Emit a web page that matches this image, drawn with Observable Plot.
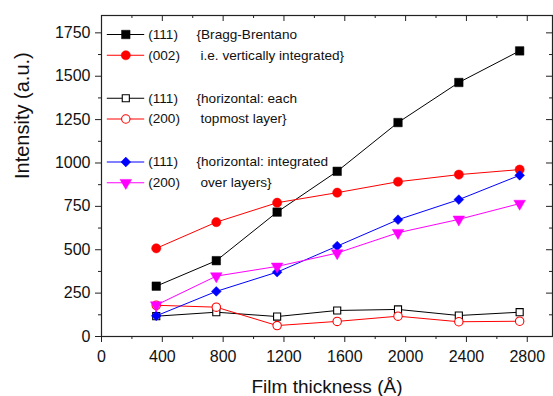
<!DOCTYPE html>
<html>
<head>
<meta charset="utf-8">
<script src="https://cdn.jsdelivr.net/npm/d3@7"></script>
<script src="https://cdn.jsdelivr.net/npm/@observablehq/plot@0.6"></script>
<style>
  html, body { margin: 0; padding: 0; background: #fff; }
</style>
</head>
<body>
<div id="chart"></div>
<script>
// Film thickness (Å) for each sample
const thickness = [360, 755, 1155, 1550, 1950, 2350, 2750];

// Peak intensities (a.u.)
const braggBrentano111 = [290, 437, 717, 952, 1233, 1464, 1646];
const braggBrentano002 = [508, 659, 771, 829, 892, 933, 962];
const horizEach111     = [117, 140, 115, 150, 156, 121, 140];
const horizEach200     = [180, 169, 63, 87, 117, 85, 88];
const horizInt111      = [119, 260, 371, 521, 673, 789, 929];
const horizInt200      = [181, 348, 404, 481, 598, 675, 766];

// Legend texts
const reflections = ["(111)", "(002)", "(111)", "(200)", "(111)", "(200)"];
const notes = [
  "{Bragg-Brentano", "i.e. vertically integrated}",
  "{horizontal: each", "topmost layer}",
  "{horizontal: integrated", "over layers}"
];

// Axis ticks
const xTicks = [0, 400, 800, 1200, 1600, 2000, 2400, 2800];
const xMinor = [200, 600, 1000, 1400, 1800, 2200, 2600];
const yTicks = [0, 250, 500, 750, 1000, 1250, 1500, 1750];
const yMinor = [125, 375, 625, 875, 1125, 1375, 1625];

const xTitle = "Film thickness (Å)";
const yTitle = "Intensity (a.u.)";

// Marker styling per series
const styles = [
  {values: braggBrentano111, color: "#000000", symbol: "square",   r: 4.8, filled: true},
  {values: braggBrentano002, color: "#ff0000", symbol: "circle",   r: 4.6, filled: true},
  {values: horizEach111,     color: "#000000", symbol: "square",   r: 4.0, filled: false},
  {values: horizEach200,     color: "#ff0000", symbol: "circle",   r: 4.2, filled: false},
  {values: horizInt111,      color: "#0000ff", symbol: "diamond2", r: 4.4, filled: true},
  {values: horizInt200,      color: "#ff00ff", symbol: "triangle", r: 4.3, filled: true, rotate: 180}
];

const W = 553, H = 396;
const mL = 101, mR = 1, mT = 15, mB = 60;
const innerW = W - mL - mR, innerH = H - mT - mB;

const segment = {draw(context, l) { context.moveTo(0, 0); context.lineTo(0, -l); }};

const marks = [];

// Data series: line then markers
styles.forEach(s => {
  const rows = thickness.map((t, i) => ({t, v: s.values[i]}));
  marks.push(Plot.line(rows, {x: "t", y: "v", stroke: s.color, strokeWidth: 1}));
  marks.push(Plot.dot(rows, {
    x: "t", y: "v", symbol: s.symbol, r: s.r,
    fill: s.filled ? s.color : "white",
    stroke: s.color, strokeWidth: s.filled ? 0.5 : 1.1,
    rotate: s.rotate || 0
  }));
});

// Legend rows inside the frame
styles.forEach((s, i) => {
  const pair = Math.floor(i / 2), sub = i % 2;
  const dy = 19 + pair * 63.75 + sub * 20.75;
  marks.push(Plot.vector([s], {frameAnchor: "top-left", dx: 5.7, dy, length: 36.6, rotate: 90,
    anchor: "start", shape: segment, stroke: s.color, strokeWidth: 1}));
  marks.push(Plot.dot([s], {frameAnchor: "top-left", dx: 24.3, dy, symbol: s.symbol, r: s.r,
    fill: s.filled ? s.color : "white", stroke: s.color, strokeWidth: s.filled ? 0.5 : 1.1,
    rotate: s.rotate || 0}));
  marks.push(Plot.text([reflections[i]], {frameAnchor: "top-left", dx: 46.7, dy, text: d => d,
    textAnchor: "start", lineAnchor: "middle", fontSize: 13.6, fill: "#111"}));
  marks.push(Plot.text([notes[i]], {frameAnchor: "top-left", dx: sub === 0 ? 95 : 99, dy, text: d => d,
    textAnchor: "start", lineAnchor: "middle", fontSize: 13.6, fill: "#111"}));
});

// Axes: outward ticks on bottom/left, inward ticks on top/right
marks.push(
  Plot.axisX(xTicks, {tickSize: 6, tickPadding: 8, tickFormat: d => `${d}`, fontSize: 16, label: null, stroke: "#222"}),
  Plot.axisX(xMinor, {tickSize: 3, tickFormat: () => "", label: null, stroke: "#222"}),
  Plot.axisY(yTicks, {tickSize: 6, tickPadding: 5, tickFormat: d => `${d}`, fontSize: 16, label: null, stroke: "#222"}),
  Plot.axisY(yMinor, {tickSize: 3, tickFormat: () => "", label: null, stroke: "#222"}),
  Plot.tickX(xTicks, {x: d => d, insetBottom: innerH - 6, stroke: "#222"}),
  Plot.tickX(xMinor, {x: d => d, insetBottom: innerH - 3, stroke: "#222"}),
  Plot.tickY(yTicks, {y: d => d, insetLeft: innerW - 6, stroke: "#222"}),
  Plot.tickY(yMinor, {y: d => d, insetLeft: innerW - 3, stroke: "#222"}),
  Plot.frame({stroke: "#222", strokeWidth: 1.2}),
  Plot.text([xTitle], {frameAnchor: "bottom", dy: 56, text: d => d, lineAnchor: "bottom", fontSize: 19, fill: "#111"}),
  Plot.text([yTitle], {frameAnchor: "left", dx: -72.7, dy: 3, rotate: -90, text: d => d, lineAnchor: "bottom", fontSize: 20, fill: "#111"})
);

const chart = Plot.plot({
  width: W, height: H,
  marginLeft: mL, marginRight: mR, marginTop: mT, marginBottom: mB,
  x: {domain: [0, 2966]},
  y: {domain: [0, 1850]},
  style: {fontFamily: "'Liberation Sans', Arial, sans-serif", fontSize: "16px", background: "white", color: "#111"},
  marks
});
document.getElementById("chart").appendChild(chart);
</script>
</body>
</html>
